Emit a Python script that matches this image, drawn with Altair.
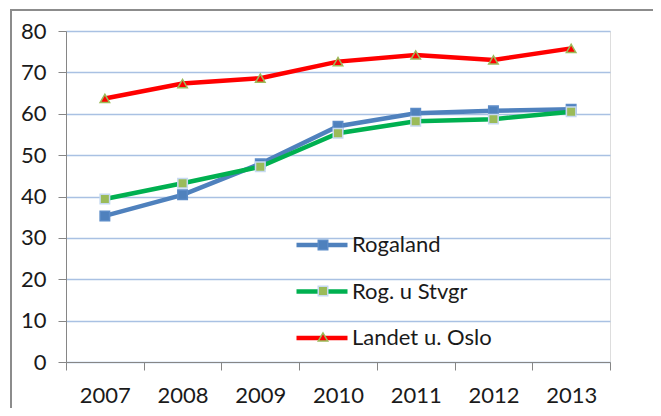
import altair as alt
import pandas as pd
import json

years = ["2007", "2008", "2009", "2010", "2011", "2012", "2013"]
series = ["Rogaland", "Rog. u Stvgr", "Landet u. Oslo"]
rogaland = [35.3, 40.4, 47.9, 57.0, 60.1, 60.7, 61.1]
rog_u_stvgr = [39.4, 43.2, 47.2, 55.3, 58.2, 58.7, 60.5]
landet_u_oslo = [63.7, 67.3, 68.6, 72.6, 74.2, 73.0, 75.8]

line_colors = ["#4F81BD", "#00B050", "#FF0000"]
marker_fill = ["#4F81BD", "#9BBB59", "#FF0000"]
marker_stroke = ["#5B8BC7", "#C6D9F1", "#9BBB59"]
marker_shape = ["square", "square", "triangle-up"]

rows = []
for i, (name, vals) in enumerate(zip(series, [rogaland, rog_u_stvgr, landet_u_oslo])):
    for y, v in zip(years, vals):
        rows.append({"year": y, "value": v, "series": name, "s2": name,
                     "mfill": marker_fill[i], "mstroke": marker_stroke[i]})
df = pd.DataFrame(rows)

FONT = "Lato"
FS = 22

x_enc = alt.X(
    "year:O",
    bandPosition=0.5,
    scale=alt.Scale(type="band", paddingInner=0, paddingOuter=0),
    axis=alt.Axis(
        title=None, labelAngle=0, tickBand="extent", tickSize=8,
        labelPadding=15, domainColor="#868686", tickColor="#868686",
        labelFont=FONT, labelFontSize=FS, labelColor="#1a1a1a", zindex=1,
        grid=False,
    ),
)
y_enc = alt.Y(
    "value:Q",
    scale=alt.Scale(domain=[0, 80], nice=False),
    axis=alt.Axis(
        title=None, values=list(range(0, 81, 10)), tickSize=8, labelPadding=12,
        domainColor="#868686", tickColor="#868686", gridColor="#A9C1E3",
        gridWidth=1.6, labelFont=FONT, labelFontSize=FS, labelColor="#1a1a1a",
    ),
)

base = alt.Chart(df)

lines = base.mark_line(strokeWidth=4.5).encode(
    x=x_enc,
    y=y_enc,
    color=alt.Color(
        "series:N",
        sort=series,
        scale=alt.Scale(range=line_colors),
        legend=alt.Legend(
            title=None, orient="none", legendX=228, legendY=186,
            symbolType="stroke", symbolSize=2601, symbolStrokeWidth=4.5,
            labelFont=FONT, labelFontSize=FS, labelColor="#1a1a1a",
            labelOffset=2, rowPadding=7.5, padding=0, labelLimit=300,
        ),
    ),
    detail="series:N",
)

idx = f"indexof({json.dumps(series)}, datum.value)"
sym_fill = f"{json.dumps(marker_fill)}[{idx}]"
sym_stroke = f"{json.dumps(marker_stroke)}[{idx}]"

pt_legend = alt.Legend(
    title=None, orient="none", legendX=246, legendY=203,
    symbolSize=90, symbolStrokeWidth=1.5, symbolOpacity=1,
    symbolFillColor=alt.ExprRef(expr=sym_fill),
    symbolStrokeColor=alt.ExprRef(expr=sym_stroke),
    labelFont=FONT, labelFontSize=FS, labelOpacity=0,
    labelOffset=3, rowPadding=24, padding=0, labelLimit=300,
)

points = base.mark_point(filled=True, size=90, strokeWidth=1.5, opacity=1).encode(
    x=x_enc,
    y=y_enc,
    shape=alt.Shape("s2:N", scale=alt.Scale(domain=series, range=marker_shape), legend=pt_legend),
    fill=alt.Fill("mfill:N", scale=None),
    stroke=alt.Stroke("mstroke:N", scale=None),
)

border = alt.Chart(pd.DataFrame({"k": [0]})).mark_rect(
    fill=None, stroke="#8C8C8C", strokeWidth=2
).encode(x=alt.value(-55), y=alt.value(-21), x2=alt.value(800), y2=alt.value(600))

chart = alt.layer(border, lines, points).properties(
    width=544, height=331,
    autosize=alt.AutoSizeParams(type="none"),
    padding={"left": 58, "top": 23, "right": 43, "bottom": 46},
).configure_view(stroke=None).configure(background="white")

chart.save("out.html", embed_options={"renderer": "svg", "actions": False})
